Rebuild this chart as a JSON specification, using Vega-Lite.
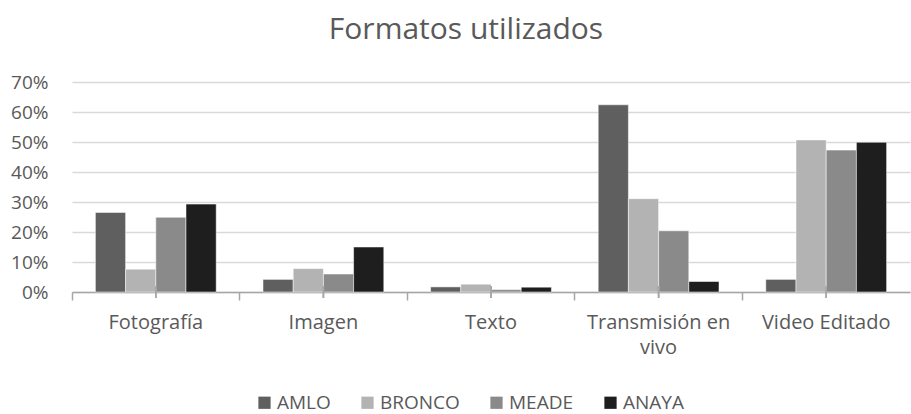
{
  "$schema": "https://vega.github.io/schema/vega-lite/v6.json",
  "width": 838,
  "height": 210,
  "autosize": {"type": "none"},
  "padding": {"left": 72, "top": 82, "right": 1, "bottom": 122},
  "background": "white",
  "title": {
    "text": "Formatos utilizados",
    "font": "Open Sans",
    "fontSize": 30,
    "fontWeight": "normal",
    "color": "#595959",
    "anchor": "middle",
    "dx": -25,
    "offset": 28
  },
  "data": {
    "values": [
      {"formato": "Fotografía", "candidato": "AMLO", "valor": 0.265},
      {"formato": "Fotografía", "candidato": "BRONCO", "valor": 0.076},
      {"formato": "Fotografía", "candidato": "MEADE", "valor": 0.249},
      {"formato": "Fotografía", "candidato": "ANAYA", "valor": 0.293},
      {"formato": "Imagen", "candidato": "AMLO", "valor": 0.042},
      {"formato": "Imagen", "candidato": "BRONCO", "valor": 0.078},
      {"formato": "Imagen", "candidato": "MEADE", "valor": 0.060},
      {"formato": "Imagen", "candidato": "ANAYA", "valor": 0.150},
      {"formato": "Texto", "candidato": "AMLO", "valor": 0.017},
      {"formato": "Texto", "candidato": "BRONCO", "valor": 0.026},
      {"formato": "Texto", "candidato": "MEADE", "valor": 0.008},
      {"formato": "Texto", "candidato": "ANAYA", "valor": 0.016},
      {"formato": "Transmisión en vivo", "candidato": "AMLO", "valor": 0.624},
      {"formato": "Transmisión en vivo", "candidato": "BRONCO", "valor": 0.311},
      {"formato": "Transmisión en vivo", "candidato": "MEADE", "valor": 0.204},
      {"formato": "Transmisión en vivo", "candidato": "ANAYA", "valor": 0.035},
      {"formato": "Video Editado", "candidato": "AMLO", "valor": 0.042},
      {"formato": "Video Editado", "candidato": "BRONCO", "valor": 0.507},
      {"formato": "Video Editado", "candidato": "MEADE", "valor": 0.473},
      {"formato": "Video Editado", "candidato": "ANAYA", "valor": 0.499}
    ]
  },
  "encoding": {
    "x": {
      "field": "formato",
      "type": "nominal",
      "sort": null,
      "scale": {"paddingInner": 0, "paddingOuter": 0},
      "axis": {
        "title": null,
        "bandPosition": 0,
        "labelAngle": 0,
        "labelFont": "Open Sans",
        "labelFontSize": 20,
        "labelColor": "#595959",
        "labelPadding": 12,
        "labelLineHeight": 25,
        "labelBaseline": "top",
        "labelExpr": "datum.label == 'Transmisión en vivo' ? ['Transmisión en', 'vivo'] : datum.label",
        "domainColor": "#a6a6a6",
        "domainWidth": 1.5,
        "tickColor": "#a6a6a6",
        "tickSize": 8,
        "tickWidth": 1.5,
        "grid": false
      }
    }
  },
  "layer": [
    {
      "mark": {"type": "bar", "stroke": "white", "strokeWidth": 0.5},
      "encoding": {
        "xOffset": {
          "field": "candidato",
          "type": "nominal",
          "sort": ["AMLO", "BRONCO", "MEADE", "ANAYA"],
          "scale": {"paddingInner": 0, "paddingOuter": 0.775}
        },
        "y": {
          "field": "valor",
          "type": "quantitative",
          "scale": {"domain": [0, 0.7], "nice": false},
          "axis": {
            "title": null,
            "format": ".0%",
            "values": [0, 0.1, 0.2, 0.3, 0.4, 0.5, 0.6, 0.7],
            "labelFont": "Open Sans",
            "labelFontSize": 19,
            "labelColor": "#595959",
            "labelPadding": 24,
            "ticks": false,
            "domain": false,
            "grid": true,
            "gridColor": "#d9d9d9",
            "gridWidth": 1.5
          }
        },
        "color": {
          "field": "candidato",
          "type": "nominal",
          "sort": ["AMLO", "BRONCO", "MEADE", "ANAYA"],
          "scale": {
            "domain": ["AMLO", "BRONCO", "MEADE", "ANAYA"],
            "range": ["#5f5f5f", "#b3b3b3", "#8a8a8a", "#1e1e1e"]
          },
          "legend": {
            "title": null,
            "orient": "none",
            "legendX": 183,
            "legendY": 311,
            "direction": "horizontal",
            "symbolType": "square",
            "symbolSize": 150,
            "symbolStrokeWidth": 0,
            "labelFont": "Open Sans",
            "labelFontSize": 19,
            "labelColor": "#595959",
            "labelOffset": 3,
            "columnPadding": 27
          }
        }
      }
    },
    {
      "mark": {"type": "tick", "orient": "vertical", "size": 12, "thickness": 1.5, "color": "#a6a6a6"},
      "encoding": {
        "y": {
          "datum": 0,
          "type": "quantitative",
          "scale": {"domain": [0, 0.7], "nice": false},
          "axis": {
            "title": null,
            "format": ".0%",
            "values": [0, 0.1, 0.2, 0.3, 0.4, 0.5, 0.6, 0.7],
            "labelFont": "Open Sans",
            "labelFontSize": 19,
            "labelColor": "#595959",
            "labelPadding": 24,
            "ticks": false,
            "domain": false,
            "grid": true,
            "gridColor": "#d9d9d9",
            "gridWidth": 1.5
          }
        }
      }
    }
  ],
  "config": {
    "view": {"stroke": null}
  }
}
